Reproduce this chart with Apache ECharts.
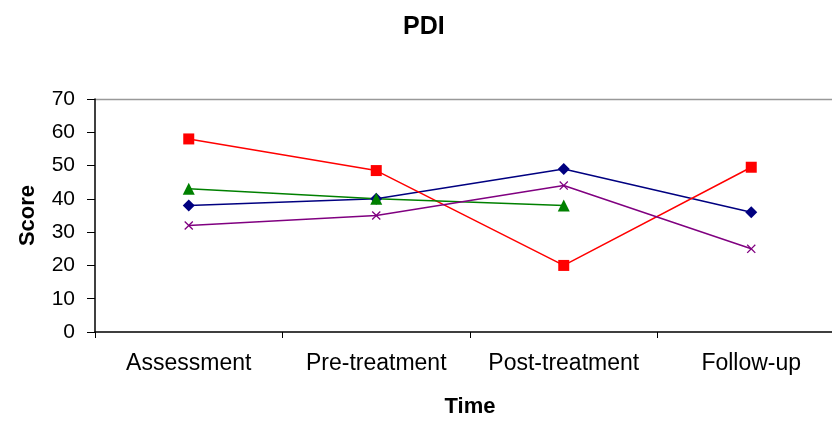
<!DOCTYPE html>
<html>
<head>
<meta charset="utf-8">
<script src="https://cdn.jsdelivr.net/npm/echarts@6/dist/echarts.min.js"></script>
<style>
  html, body { margin: 0; padding: 0; background: #fff; }
  #chart { width: 832px; height: 422px; }
</style>
</head>
<body>
<div id="chart"></div>
<script>
// Time points and PDI scores per series
const categories = ['Assessment', 'Pre-treatment', 'Post-treatment', 'Follow-up'];
const seriesBlue = [38, 40, 49, 36];
const seriesRed = [58, 48.5, 20, 49.5];
const seriesGreen = [43, 40, 38, null];
const seriesPurple = [32, 35, 44, 25];
const yTicks = { min: 0, max: 70, interval: 10 };

const FONT = 'Liberation Sans, Arial, sans-serif';
const crossPath = 'path://M0,1L1,0L5,4L9,0L10,1L6,5L10,9L9,10L5,6L1,10L0,9L4,5Z';

function lineSeries(name, data, color, symbol, size) {
  return {
    name: name,
    type: 'line',
    data: data,
    symbol: symbol,
    symbolSize: size,
    showSymbol: true,
    connectNulls: false,
    lineStyle: { color: color, width: 1.5 },
    itemStyle: { color: color },
    emphasis: { disabled: true },
    animation: false
  };
}

const chart = echarts.init(document.getElementById('chart'), null, { renderer: 'canvas' });
chart.setOption({
  backgroundColor: '#ffffff',
  animation: false,
  title: {
    text: 'PDI',
    left: 403,
    top: 15,
    padding: 0,
    textStyle: { fontFamily: FONT, fontSize: 25, fontWeight: 'bold', color: '#000' }
  },
  // plot area runs slightly past the right edge of the canvas
  grid: { left: 95, top: 99, width: 750, height: 233, containLabel: false, outerBoundsMode: 'none' },
  xAxis: {
    type: 'category',
    data: categories,
    boundaryGap: true,
    name: 'Time',
    nameLocation: 'middle',
    nameGap: 64,
    nameTextStyle: { fontFamily: FONT, fontSize: 22, fontWeight: 'bold', color: '#000' },
    axisLine: { lineStyle: { color: '#000', width: 1.5 } },
    axisTick: { show: true, inside: false, length: 6, interval: 0, lineStyle: { color: '#000' } },
    axisLabel: { fontFamily: FONT, fontSize: 23, color: '#000', margin: 20, interval: 0 },
    splitLine: { show: false }
  },
  yAxis: {
    type: 'value',
    min: yTicks.min,
    max: yTicks.max,
    interval: yTicks.interval,
    name: 'Score',
    nameLocation: 'middle',
    nameGap: 56,
    nameRotate: 90,
    nameTextStyle: { fontFamily: FONT, fontSize: 22, fontWeight: 'bold', color: '#000' },
    axisLine: { show: true, lineStyle: { color: '#000', width: 1.5 } },
    axisTick: { show: true, inside: false, length: 8, lineStyle: { color: '#000' } },
    axisLabel: { fontFamily: FONT, fontSize: 21, color: '#000', margin: 20 },
    splitLine: { show: false }
  },
  graphic: [{
    type: 'line',
    shape: { x1: 95, y1: 99.5, x2: 832, y2: 99.5 },
    style: { stroke: '#999', lineWidth: 1.5 },
    silent: true
  }],
  series: [
    lineSeries('Blue', seriesBlue, '#000080', 'diamond', 12),
    lineSeries('Red', seriesRed, '#ff0000', 'rect', 11),
    lineSeries('Green', seriesGreen, '#008000', 'triangle', 12),
    lineSeries('Purple', seriesPurple, '#800080', crossPath, 9)
  ]
});
</script>
</body>
</html>
